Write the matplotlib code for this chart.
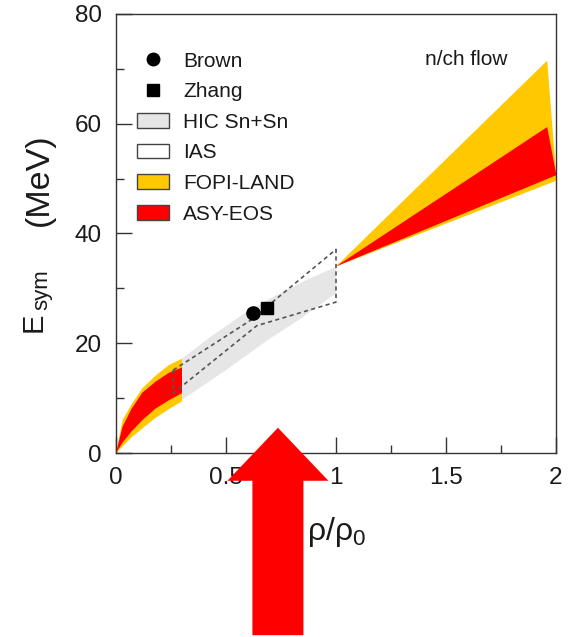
import numpy as np
import matplotlib
matplotlib.use('Agg')
import matplotlib.pyplot as plt
from matplotlib.lines import Line2D
from matplotlib.patches import Patch, FancyArrow
from matplotlib.ticker import MultipleLocator, FixedLocator

plt.rcParams['font.family'] = ['Liberation Sans', 'DejaVu Sans']
plt.rcParams['mathtext.fontset'] = 'custom'
plt.rcParams['mathtext.rm'] = 'Liberation Sans'
plt.rcParams['mathtext.it'] = 'Liberation Sans'

# ---- low density constraints (rho/rho0 < 0.3) ----
low_x = [0.0, 0.03, 0.07, 0.12, 0.18, 0.24, 0.30]
fopi_low_upper = [0.0, 6.0, 8.8, 11.8, 14.1, 16.0, 17.2]
fopi_low_lower = [0.0, 1.2, 2.8, 4.5, 6.4, 8.0, 9.4]
asy_low_upper = [0.0, 4.8, 8.0, 11.0, 13.0, 14.6, 15.6]
asy_low_lower = [0.0, 1.9, 3.9, 6.0, 8.1, 9.6, 10.9]

# ---- HIC Sn+Sn band ----
hic_upper_x = [0.30, 0.43, 0.59, 0.73, 0.88, 1.0]
hic_upper = [17.2, 21.2, 25.6, 28.8, 31.8, 33.9]
hic_lower_x = [0.30, 0.50, 0.69, 0.84, 1.0]
hic_lower = [9.7, 15.1, 20.6, 24.5, 29.1]

# ---- IAS contour ----
ias_upper_x = [0.26, 0.62, 0.69, 1.0]
ias_upper = [15.1, 24.4, 26.8, 37.1]
ias_lower_x = [0.26, 0.64, 1.0]
ias_lower = [10.9, 23.2, 27.5]

# ---- n/ch flow (supra-saturation) ----
fopi_hi_upper_x = [1.0, 1.96, 2.0]
fopi_hi_upper = [34.0, 71.5, 51.0]
fopi_hi_lower_x = [1.0, 2.0]
fopi_hi_lower = [34.0, 49.6]
asy_hi_upper_x = [1.0, 1.96, 2.0]
asy_hi_upper = [34.0, 59.4, 51.0]
asy_hi_lower_x = [1.0, 2.0]
asy_hi_lower = [34.0, 50.6]

# ---- points ----
brown_x, brown_y = [0.624], [25.5]
zhang_x, zhang_y = [0.685], [26.4]

YELLOW = '#FFC800'
RED = '#FF0000'
GRAY = '#E6E6E6'
TXT = '#1a1a1a'


def band(xu, yu, xl, yl):
    xs = list(xu) + list(xl)[::-1]
    ys = list(yu) + list(yl)[::-1]
    return xs, ys


fig = plt.figure(figsize=(5.68, 6.37), dpi=100)
W, H = 568, 637
ax = fig.add_axes([116 / W, 1 - 453 / H, 440 / W, 439 / H])

# bands
ax.fill(*band(hic_upper_x, hic_upper, hic_lower_x, hic_lower), color=GRAY, lw=0, zorder=1)
ax.fill(*band(low_x, fopi_low_upper, low_x, fopi_low_lower), color=YELLOW, lw=0, zorder=2)
ax.fill(*band(low_x, asy_low_upper, low_x, asy_low_lower), color=RED, lw=0, zorder=3)
ax.fill(*band(fopi_hi_upper_x, fopi_hi_upper, fopi_hi_lower_x, fopi_hi_lower), color=YELLOW, lw=0, zorder=2)
ax.fill(*band(asy_hi_upper_x, asy_hi_upper, asy_hi_lower_x, asy_hi_lower), color=RED, lw=0, zorder=3)

# IAS dashed contour
ix, iy = band(ias_upper_x, ias_upper, ias_lower_x, ias_lower)
ax.plot(ix + [ix[0]], iy + [iy[0]], color='#555555', lw=1.2, ls=(0, (2.5, 2.0)), zorder=4)

ax.plot(brown_x, brown_y, 'o', color='black', ms=9.5, zorder=5)
ax.plot(zhang_x, zhang_y, 's', color='black', ms=9.0, zorder=5)

ax.set_xlim(0, 2)
ax.set_ylim(0, 80)
ax.xaxis.set_major_locator(FixedLocator([0, 0.5, 1, 1.5, 2]))
ax.set_xticklabels(['0', '0.5', '1', '1.5', '2'])
ax.xaxis.set_minor_locator(MultipleLocator(0.25))
ax.yaxis.set_major_locator(MultipleLocator(20))
ax.yaxis.set_minor_locator(MultipleLocator(10))
ax.tick_params(which='both', direction='in', top=False, right=False, colors='#333333',
               labelcolor=TXT, labelsize=17.5, width=1.0)
ax.tick_params(which='major', length=11.5, pad=10)
ax.tick_params(which='minor', length=5.8)
for sp in ax.spines.values():
    sp.set_color('#333333')
    sp.set_linewidth(1.0)

ax.set_xlabel(r'$\rho/\rho_0$', fontsize=23, color=TXT, labelpad=18.5)

# y label: E_sym and (MeV), written bottom-to-top
fig.text(42 / W, 1 - 332 / H, 'E', rotation=90, rotation_mode='anchor', fontsize=21,
         ha='left', va='baseline', color=TXT)
fig.text(47 / W, 1 - 310 / H, 'sym', rotation=90, rotation_mode='anchor', fontsize=16,
         ha='left', va='baseline', color=TXT)
fig.text(48 / W, 1 - 180 / H, '(MeV)', rotation=90, rotation_mode='anchor', fontsize=24.5,
         ha='center', va='baseline', color=TXT)

ax.text(0.702, 0.897, 'n/ch flow', transform=ax.transAxes, fontsize=15, color=TXT,
        ha='left', va='center')

handles = [
    Line2D([], [], marker='o', ls='none', color='black', ms=9),
    Line2D([], [], marker='s', ls='none', color='black', ms=8.5),
    Patch(facecolor=GRAY, edgecolor='#444444', lw=1),
    Patch(facecolor='white', edgecolor='#444444', lw=1),
    Patch(facecolor=YELLOW, edgecolor='#444444', lw=1),
    Patch(facecolor=RED, edgecolor='#444444', lw=1),
]
labels = ['Brown', 'Zhang', 'HIC Sn+Sn', 'IAS', 'FOPI-LAND', 'ASY-EOS']
leg = ax.legend(handles, labels, loc='upper left', bbox_to_anchor=(21 / 440, 0.914),
                frameon=False, fontsize=15, handlelength=1.55, handleheight=0.7,
                handletextpad=0.67, labelspacing=0.555, borderpad=0, borderaxespad=0)
for t in leg.get_texts():
    t.set_color(TXT)

# big red arrow pointing at the density probed
arrow_x, arrow_tip, arrow_tail = 0.736, 4.6, -33.2
arr = FancyArrow(arrow_x, arrow_tail, 0, arrow_tip - arrow_tail, width=0.232,
                 head_width=0.459, head_length=9.66, length_includes_head=True,
                 color=RED, lw=0, clip_on=False, zorder=10)
ax.add_patch(arr)

fig.savefig('out.png', dpi=100)
